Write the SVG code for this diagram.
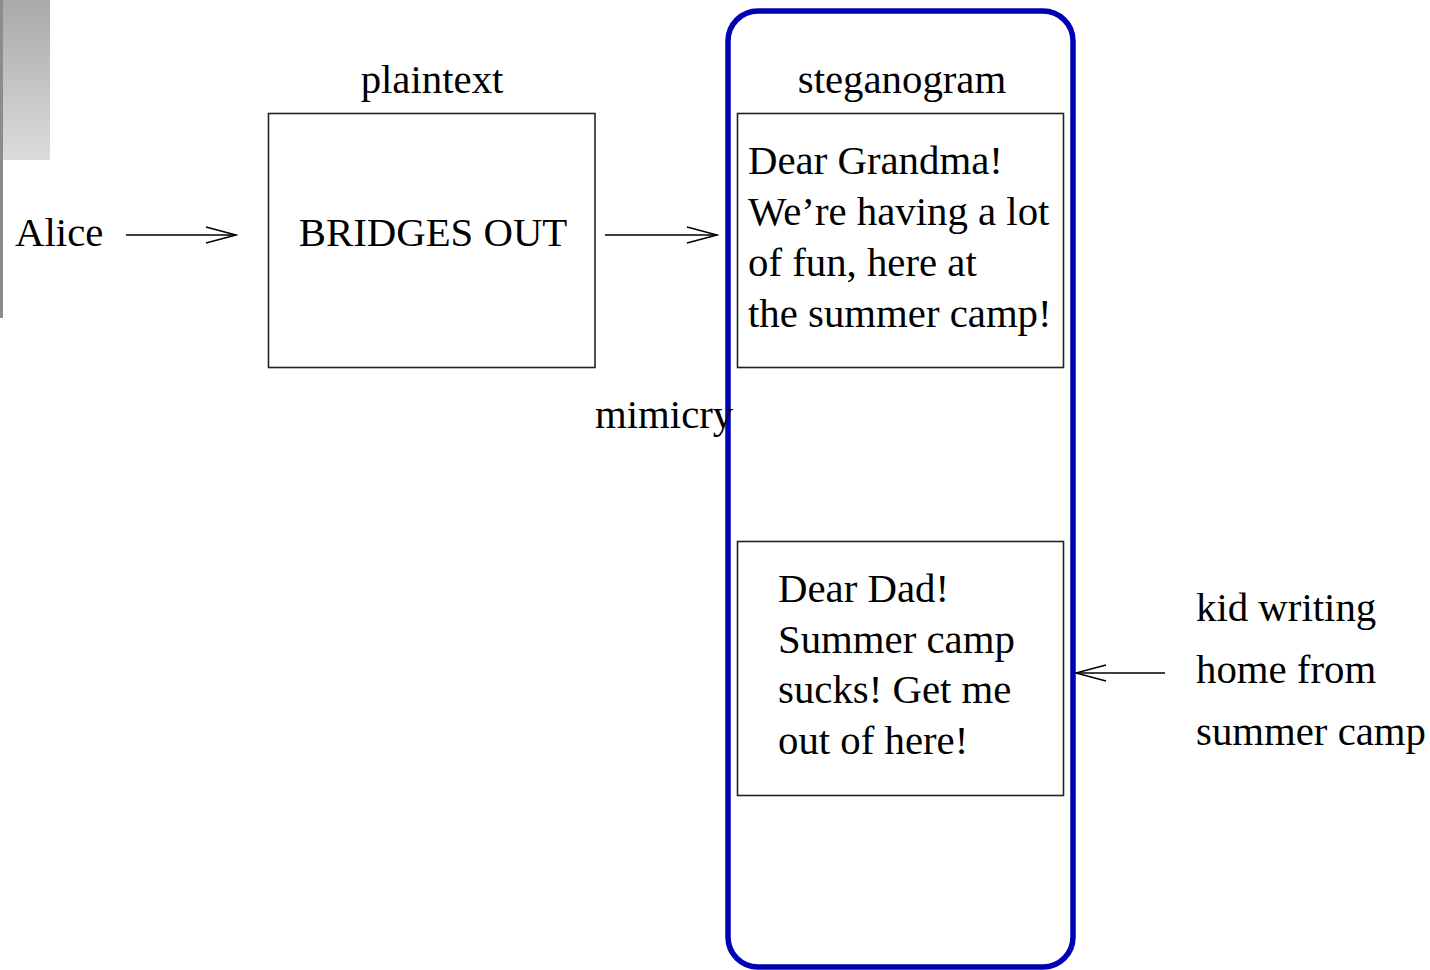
<svg xmlns="http://www.w3.org/2000/svg" width="1430" height="970" viewBox="0 0 1430 970">
<style>
text{font-family:"Liberation Serif","Times New Roman",serif;font-size:40.8px;fill:#000}
.box{fill:none;stroke:#222;stroke-width:1.6}
.conn{stroke:#000;stroke-width:1.6;fill:none}
</style>
<defs>
<linearGradient id="g" x1="0" y1="0" x2="0" y2="1">
<stop offset="0" stop-color="#a9a9a9"/>
<stop offset="1" stop-color="#dcdcdc"/>
</linearGradient>
<marker id="arr" markerWidth="34" markerHeight="20" refX="32" refY="10" orient="auto" markerUnits="userSpaceOnUse">
<path d="M2,2 L32,10 L2,18" fill="none" stroke="#000" stroke-width="1.6"/>
</marker>
</defs>
<rect x="0" y="0" width="50" height="160" fill="url(#g)"/>
<rect x="0" y="0" width="3" height="318" fill="#8c8c8c"/>
<g id="container">
<rect x="728" y="11" width="345" height="956" rx="30" ry="30" fill="none" stroke="#0000b4" stroke-width="5.5"/>
</g>
<g id="alice"><text x="15" y="246">Alice</text></g>
<g id="plaintext">
<text x="432" y="93" text-anchor="middle">plaintext</text>
<rect class="box" x="268.5" y="113.5" width="326.5" height="254"/>
<text x="433" y="246" text-anchor="middle">BRIDGES OUT</text>
</g>
<g id="steganogram">
<text x="902" y="93" text-anchor="middle">steganogram</text>
<rect class="box" x="737.5" y="113.5" width="326" height="254"/>
<text x="748" y="174">Dear Grandma!</text>
<text x="748" y="225">We’re having a lot</text>
<text x="748" y="276">of fun, here at</text>
<text x="748" y="327">the summer camp!</text>
</g>
<g id="mimicry"><text x="595" y="428">mimicry</text></g>
<g id="dad">
<rect class="box" x="737.5" y="541.5" width="326" height="254"/>
<text x="778" y="602">Dear Dad!</text>
<text x="778" y="653">Summer camp</text>
<text x="778" y="703">sucks! Get me</text>
<text x="778" y="754">out of here!</text>
</g>
<g id="kid">
<text x="1196" y="621">kid writing</text>
<text x="1196" y="683">home from</text>
<text x="1196" y="745">summer camp</text>
</g>
<g id="connectors">
<line class="conn" x1="126" y1="235" x2="236" y2="235" marker-end="url(#arr)"/>
<line class="conn" x1="605" y1="235" x2="717" y2="235" marker-end="url(#arr)"/>
<line class="conn" x1="1165" y1="673" x2="1076" y2="673" marker-end="url(#arr)"/>
</g>
</svg>
